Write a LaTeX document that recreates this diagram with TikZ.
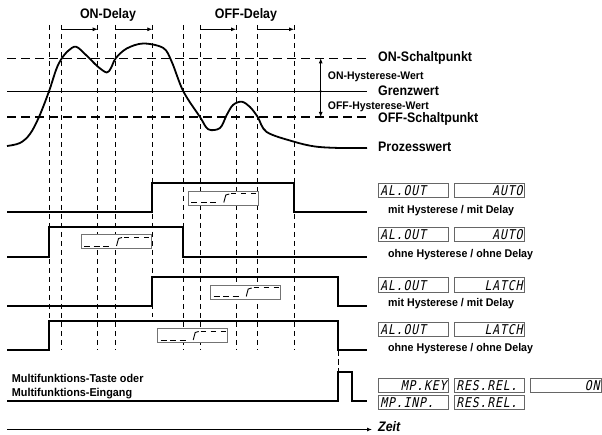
\documentclass[tikz,border=0pt]{standalone}
\usepackage{fontspec}
\setmainfont{Liberation Sans}
\newfontfamily\lblfont[FakeStretch=0.9]{Liberation Sans}
\newfontfamily\rowfont[FakeStretch=0.95]{Liberation Sans}
\newfontfamily\lcdfont[FakeSlant=0.2,FakeStretch=0.85,LetterSpace=6]{DejaVu Sans Mono}
\usetikzlibrary{arrows.meta}
\tikzset{
  relbox/.pic={
    \draw[draw=black!55, line width=0.9pt, fill=white] (0,0) rectangle (70,14);
    \draw[line width=0.9pt, dash pattern=on 6pt off 3.5pt] (3,11.5) -- (31,11.5);
    \draw[line width=0.9pt] (35.5,11.5) -- (37.5,4) -- (41,3);
    \draw[line width=0.9pt, dash pattern=on 5pt off 5pt] (43,2.6) -- (68,2.6);
  }
}
\begin{document}
\begin{tikzpicture}[x=1pt,y=-1pt,
  vdash/.style={line width=0.7pt, dash pattern=on 5.5pt off 3.5pt},
  hdash/.style={line width=1.3pt, dash pattern=on 9pt off 5pt},
  sig/.style={line width=1.7pt, line join=miter},
  lbl/.style={font=\lblfont\fontsize{13.8}{15}\selectfont\bfseries, anchor=west, inner sep=0},
  hlbl/.style={font=\rowfont\fontsize{11}{12}\selectfont\bfseries, anchor=west, inner sep=0},
  rowlbl/.style={font=\rowfont\fontsize{11.2}{12}\selectfont\bfseries, anchor=west, inner sep=0},
  disp/.style={draw=black!60, line width=0.9pt, fill=white, minimum width=70pt,
    minimum height=14.5pt, inner sep=0, text width=66pt,
    font=\lcdfont\fontsize{13.5}{13.5}\selectfont, anchor=north west},
  dl/.style={disp, align=left},
  dr/.style={disp, align=right},
  tip/.style={-{Latex[length=5pt,width=4pt]}}
]
\useasboundingbox (0,0) rectangle (602,435);

% vertical dashed guide lines
\foreach \xx in {49,61,97.7,115.7,183.3,200,236,257.7,294}
  \draw[vdash] (\xx,25) -- (\xx,350);
\draw[vdash] (152.3,25) -- (152.3,317);
\draw[vdash] (338,350) -- (338,372);

% delay arrows
\coordinate (d1a) at (61,29.3);    \coordinate (d1b) at (97.7,29.3);
\coordinate (d2a) at (115.7,29.3); \coordinate (d2b) at (152.3,29.3);
\coordinate (d3a) at (200,29.3);   \coordinate (d3b) at (236,29.3);
\coordinate (d4a) at (257.7,29.3); \coordinate (d4b) at (294,29.3);
\draw[tip, line width=0.8pt] (d1a) -- (d1b);
\draw[tip, line width=0.8pt] (d2a) -- (d2b);
\draw[tip, line width=0.8pt] (d3a) -- (d3b);
\draw[tip, line width=0.8pt] (d4a) -- (d4b);
\node[lbl, anchor=center] (ondelay) at (108,15) {ON-Delay};
\node[lbl, anchor=center] (offdelay) at (246,15) {OFF-Delay};

% threshold lines
\draw[hdash] (7,58.3) -- (369,58.3);
\draw[line width=1.2pt] (7,91.3) -- (367,91.3);
\draw[hdash] (7,117) -- (369,117);

% process value curve
\draw[line width=1.8pt, line join=round] plot[smooth, tension=0.55] coordinates {
 (7,146) (20,143) (30,134) (39,117) (49,91.3) (56,70) (61,59.5) (68,51) (76,46.7)
 (86,55) (97.7,66.5) (106.7,72.5) (111,68) (115.7,58.3) (126.7,48.5) (143.3,43.5)
 (163.3,48) (171.7,61.7) (183.3,91.3) (200,117) (208.3,129.3) (220,128)
 (226.7,115) (233,105) (241.7,101.7) (250,107) (257.7,117) (266.7,132)
 (293.3,141.5) (315,146.5) (340,148) (367,148)};

% hysteresis arrows
\coordinate (hmid) at (320.7,91.3);
\coordinate (hon) at (320.7,58.3);
\coordinate (hoff) at (320.7,117);
\draw[tip, line width=0.8pt] (hmid) -- (hon);
\draw[tip, line width=0.8pt] (hmid) -- (hoff);
\fill (hmid) circle (1.3pt);

\node[lbl] (onsp) at (378,58.3) {ON-Schaltpunkt};
\node[lbl] (gw) at (378,90.3) {Grenzwert};
\node[lbl] (offsp) at (378,119) {OFF-Schaltpunkt};
\node[lbl] (pw) at (378,147) {Prozesswert};
\node[hlbl] (onhw) at (327.7,77.3) {ON-Hysterese-Wert};
\node[hlbl] (offhw) at (327.7,107.3) {OFF-Hysterese-Wert};

% output signals
\draw[sig] (7,212.3) -- (152.3,212.3) -- (152.3,183) -- (294,183) -- (294,212.3) -- (367,212.3);
\draw[sig] (7,256.7) -- (49,256.7) -- (49,227.3) -- (183.3,227.3) -- (183.3,256.7) -- (367,256.7);
\draw[sig] (7,305.7) -- (152.3,305.7) -- (152.3,277.3) -- (338,277.3) -- (338,305.7) -- (367,305.7);
\draw[sig] (7,350) -- (49,350) -- (49,320.7) -- (338,320.7) -- (338,350) -- (367,350);
\draw[sig] (7,400.7) -- (338,400.7) -- (338,372) -- (352,372) -- (352,400.7) -- (367,400.7);

% relay icons
\pic (rb1) at (188.3,191) {relbox};
\pic (rb2) at (81,234.5) {relbox};
\pic (rb3) at (210.7,285) {relbox};
\pic (rb4) at (157.7,328.5) {relbox};

% displays
\node[dl] (a1) at (378,183) {AL.OUT};
\node[dr] (b1) at (454,183) {AUTO};
\node[rowlbl] (l1) at (388,210.7) {mit Hysterese / mit Delay};
\node[dl] (a2) at (378,227) {AL.OUT};
\node[dr] (b2) at (454,227) {AUTO};
\node[rowlbl] (l2) at (388,254.3) {ohne Hysterese / ohne Delay};
\node[dl] (a3) at (378,277.5) {AL.OUT};
\node[dr] (b3) at (454,277.5) {LATCH};
\node[rowlbl] (l3) at (388,304) {mit Hysterese / mit Delay};
\node[dl] (a4) at (378,322) {AL.OUT};
\node[dr] (b4) at (454,322) {LATCH};
\node[rowlbl] (l4) at (388,348.3) {ohne Hysterese / ohne Delay};
\node[dr] (a5) at (378,377.5) {MP.KEY};
\node[dl] (b5) at (454,377.5) {RES.REL.};
\node[dr, minimum width=71pt, text width=67pt] (c5) at (530,377.5) {ON};
\node[dl] (a6) at (378,394.5) {MP.INP.};
\node[dl] (b6) at (454,394.5) {RES.REL.};

\node[rowlbl, align=left, anchor=north west, font=\rowfont\fontsize{11.4}{13.3}\selectfont\bfseries] (mf) at (11.7,374.5) {Multifunktions-Taste oder\\Multifunktions-Eingang};

% time axis
\coordinate (t0) at (7,429.5);
\coordinate (t1) at (372,429.5);
\draw[tip, line width=1.2pt] (t0) -- (t1);
\node[lbl, font=\lblfont\fontsize{13.8}{15}\selectfont\bfseries\itshape] (zeit) at (378,427) {Zeit};
\end{tikzpicture}
\end{document}
